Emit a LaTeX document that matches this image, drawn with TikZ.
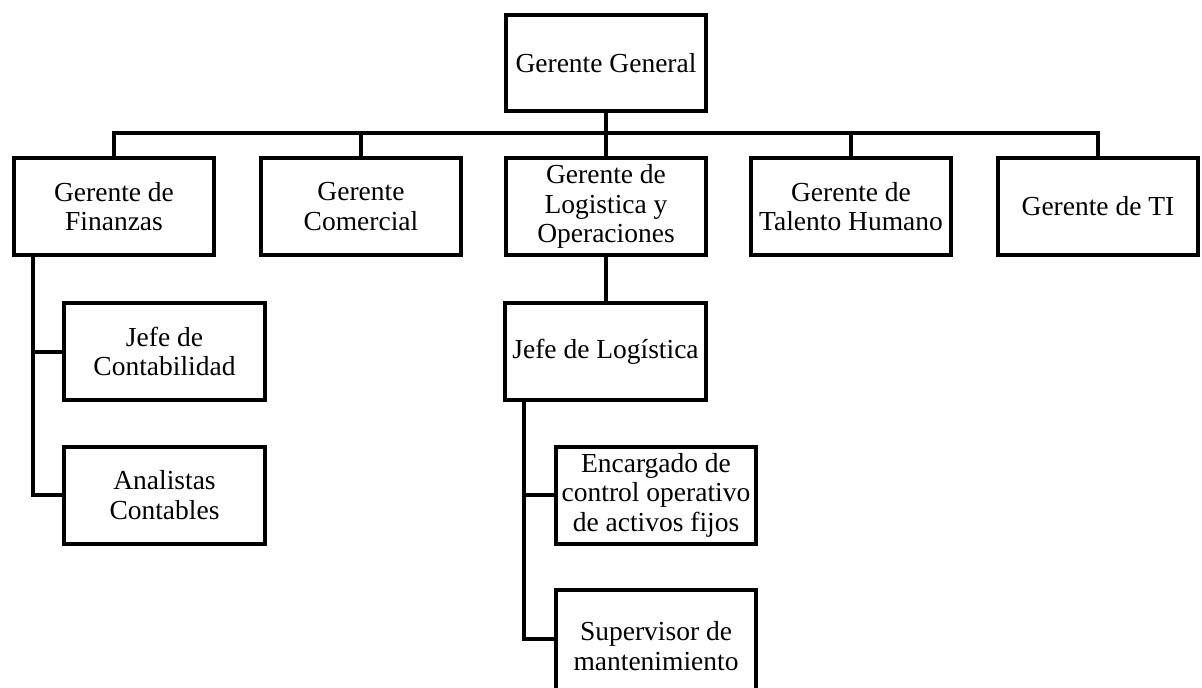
\documentclass[tikz,border=0pt]{standalone}
\usepackage{fontspec}
\setmainfont{Liberation Serif}
\begin{document}
\begin{tikzpicture}[x=1pt,y=-1pt,
  box/.style={draw=black, line width=4pt, rectangle, minimum width=200pt, minimum height=97pt,
    inner sep=0pt, align=center, font=\fontsize{27.5}{29.5}\selectfont},
  link/.style={draw=black, line width=4pt}]
\useasboundingbox[fill=white] (0,0) rectangle (1202,688);
\node[box, minimum height=96pt] (gg) at (606,63) {Gerente General};
\node[box] (fin) at (114,206.5) {Gerente de\\Finanzas};
\node[box] (com) at (361,206.5) {Gerente\\Comercial};
\node[box] (log) at (606,206.5) {Gerente de\\Logistica y\\Operaciones};
\node[box] (tal) at (851,206.5) {Gerente de\\Talento Humano};
\node[box] (ti) at (1098,206.5) {Gerente de TI};
\node[box, minimum width=201pt] (con) at (164.5,351.5) {Jefe de\\Contabilidad};
\node[box, minimum width=201pt] (ana) at (164.5,495) {Analistas\\Contables};
\node[box, minimum width=201pt] (jl) at (605.5,351.5) {Jefe de Logística};
\node[box] (enc) at (656,495) {Encargado de\\control operativo\\de activos fijos};
\node[box, minimum height=112pt] (sup) at (656,646) {Supervisor de\\mantenimiento};
\coordinate (bus) at (606,133);
\coordinate (fv) at (33,0);
\coordinate (lv) at (524,0);
\coordinate (sj) at (0,639);
\draw[link] (gg.south) -- (gg.south |- bus);
\draw[link] (fin.north) |- (bus) -| (ti.north);
\draw[link] (com.north) -- (com.north |- bus);
\draw[link] (log.north) -- (log.north |- bus);
\draw[link] (tal.north) -- (tal.north |- bus);
\draw[link] (fv |- fin.south) |- (ana.west);
\draw[link] (fv |- con.west) -- (con.west);
\draw[link] (log.south) -- (log.south |- jl.north);
\draw[link] (lv |- jl.south) |- (sup.west |- sj);
\draw[link] (lv |- enc.west) -- (enc.west);
\end{tikzpicture}
\end{document}
